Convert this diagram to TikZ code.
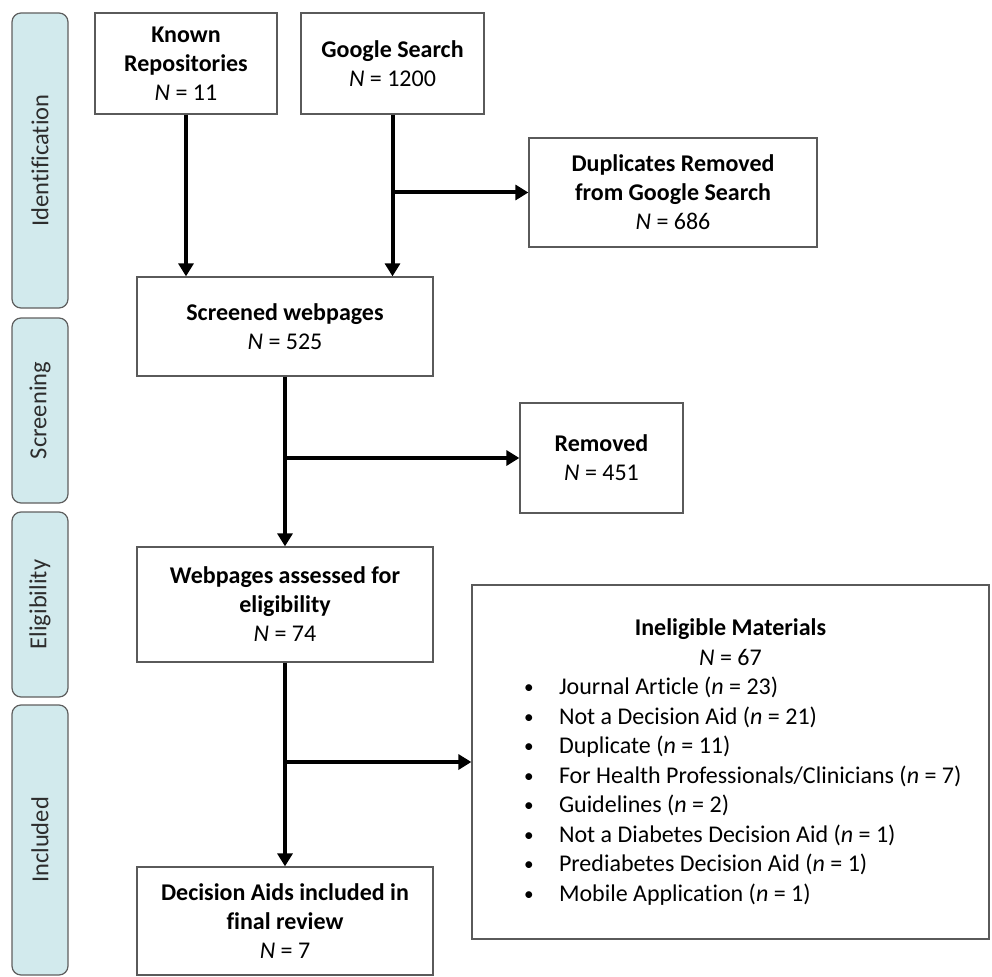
\documentclass[tikz,border=0pt]{standalone}
\usepackage{fontspec}
\setmainfont[Ligatures=CommonOff]{Carlito}
\usetikzlibrary{arrows.meta}
\definecolor{bandfill}{RGB}{210,234,237}
\definecolor{bandline}{RGB}{95,95,95}
\definecolor{boxline}{RGB}{90,90,90}
\definecolor{labeltext}{RGB}{45,45,45}
\tikzset{
  flowbox/.style={draw=boxline, line width=1.3pt, fill=white, align=center, inner sep=0pt,
    font=\fontsize{24}{29}\selectfont},
  band/.style={draw=bandline, line width=1.2pt, fill=bandfill, rounded corners=9pt,
    minimum width=56pt, inner sep=0pt},
  bandlabel/.style={rotate=90, text=labeltext, font=\fontsize{24.5}{28}\selectfont},
  flowarrow/.style={line width=4pt, -{Triangle[length=13pt,width=15pt]}},
  flowline/.style={line width=4pt}
}
\newcommand{\bul}{\hspace*{52pt}\makebox[35pt][l]{\raisebox{1pt}{\scalebox{0.8}{\textbullet}}}}
\newcommand{\itm}[1]{\bul#1\\}
\begin{document}
\begin{tikzpicture}[x=1pt,y=-1pt]
\useasboundingbox (0,0) rectangle (992,976);
% side bands
\node[band, minimum height=295pt] (bid) at (40,160.5) {};
\node[bandlabel] (lid) at (bid.center) {Identification};
\node[band, minimum height=185pt] (bsc) at (40,410.5) {};
\node[bandlabel] (lsc) at (bsc.center) {Screening};
\node[band, minimum height=185pt] (bel) at (40,604.5) {};
\node[bandlabel] (lel) at (bel.center) {Eligibility};
\node[band, minimum height=270pt] (bin) at (40,840) {};
\node[bandlabel] (lin) at (bin.center) {Included};
% boxes
\node[flowbox, minimum width=182pt, minimum height=101pt] (known) at (186,63.5)
  {\textbf{Known}\\\textbf{Repositories}\\\textit{N} = 11};
\node[flowbox, minimum width=183pt, minimum height=101pt] (google) at (392.5,63.5)
  {\textbf{Google Search}\\\textit{N} = 1200};
\node[flowbox, minimum width=288pt, minimum height=109pt] (dup) at (673,192.5)
  {\textbf{Duplicates Removed}\\\textbf{from Google Search}\\\textit{N} = 686};
\node[flowbox, minimum width=296pt, minimum height=99pt] (screened) at (285,326.5)
  {\textbf{Screened webpages}\\\textit{N} = 525};
\node[flowbox, minimum width=163pt, minimum height=110pt] (removed) at (601.5,458)
  {\textbf{Removed}\\\textit{N} = 451};
\node[flowbox, minimum width=296pt, minimum height=115pt] (webpages) at (285,604.5)
  {\textbf{Webpages assessed for}\\\textbf{eligibility}\\\textit{N} = 74};
\node[flowbox, minimum width=517pt, minimum height=354pt] (inel) at (730.5,762)
  {\begin{minipage}{517pt}\fontsize{24}{29.5}\selectfont
   \centering\textbf{Ineligible Materials}\\\textit{N} = 67\par
   \raggedright
   \itm{Journal Article (\textit{n} = 23)}
   \itm{Not a Decision Aid (\textit{n} = 21)}
   \itm{Duplicate (\textit{n} = 11)}
   \itm{For Health Professionals/Clinicians (\textit{n} = 7)}
   \itm{Guidelines (\textit{n} = 2)}
   \itm{Not a Diabetes Decision Aid (\textit{n} = 1)}
   \itm{Prediabetes Decision Aid (\textit{n} = 1)}
   \bul Mobile Application (\textit{n} = 1)
   \end{minipage}};
\node[flowbox, minimum width=296pt, minimum height=108pt] (decision) at (285,921)
  {\textbf{Decision Aids included in}\\\textbf{final review}\\\textit{N} = 7};
% connectors
\draw[flowarrow] (known.south) -- (known.south |- screened.north);
\draw[flowarrow] (google.south) -- (google.south |- screened.north);
\draw[flowarrow] (google.south |- dup.west) -- (dup.west);
\draw[flowarrow] (screened.south) -- (webpages.north);
\draw[flowarrow] (screened.south |- removed.west) -- (removed.west);
\draw[flowarrow] (webpages.south) -- (decision.north);
\draw[flowarrow] (webpages.south |- inel.west) -- (inel.west);
\end{tikzpicture}
\end{document}
